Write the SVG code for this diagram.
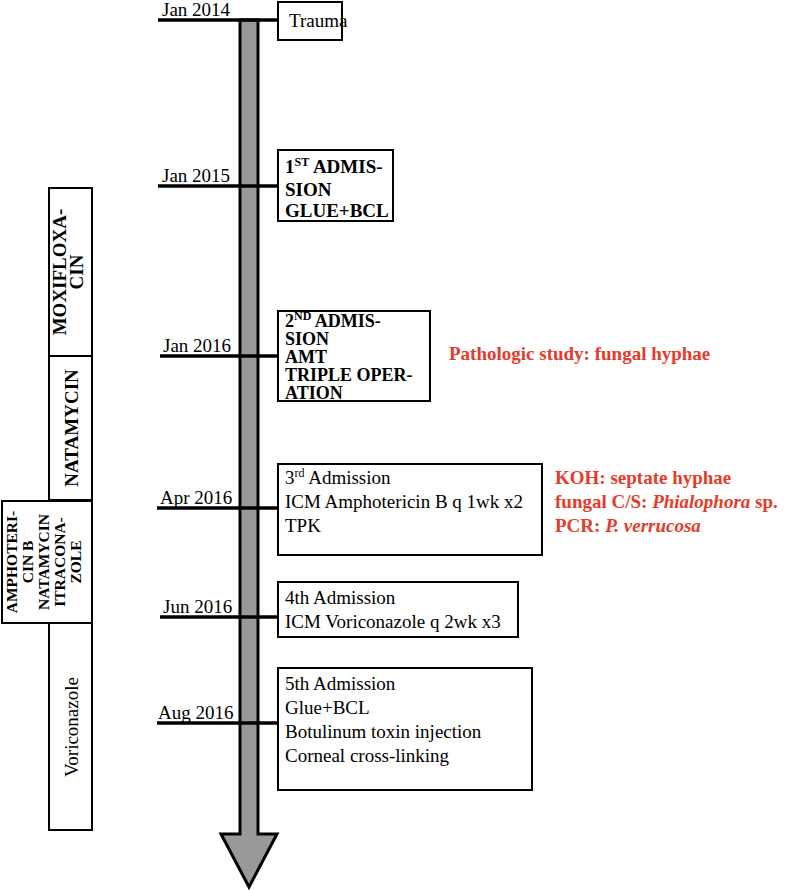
<svg xmlns="http://www.w3.org/2000/svg" width="787" height="890" viewBox="0 0 787 890">
<style>
text{font-family:"Liberation Serif","Times New Roman",serif;font-size:19px;fill:#000}
.b{font-weight:bold}
.red{fill:#e63b2b;font-weight:bold}
.box{fill:#fff;stroke:#000;stroke-width:2}
.tick{stroke:#000;stroke-width:3.5}
.sup{font-size:12px}
.t{font-size:18px}
.s{font-size:15.5px}
</style>
<g id="connectors">
<path id="timeline-arrow" d="M240,20 L258,20 L258,834 L277,834 L249,887 L221,834 L240,834 Z" fill="#999" stroke="#000" stroke-width="3" stroke-linejoin="miter"/>
<line class="tick" x1="158" y1="20" x2="278" y2="20"/>
<line class="tick" x1="158" y1="186" x2="278" y2="186"/>
<line class="tick" x1="160" y1="356" x2="278" y2="356"/>
<line class="tick" x1="157" y1="508" x2="278" y2="508"/>
<line class="tick" x1="160" y1="617" x2="278" y2="617"/>
<line class="tick" x1="157" y1="723" x2="278" y2="723"/>
</g>
<g id="dates">
<text x="162" y="16">Jan 2014</text>
<text x="162" y="182">Jan 2015</text>
<text x="163" y="352">Jan 2016</text>
<text x="160" y="504">Apr 2016</text>
<text x="163" y="613">Jun 2016</text>
<text x="158" y="719">Aug 2016</text>
</g>
<g id="trauma">
<rect class="box" x="278" y="2" width="64" height="38"/>
<text x="289" y="27">Trauma</text>
</g>
<g id="admission1">
<rect class="box" x="278" y="150" width="115" height="71"/>
<text class="b" x="285" y="173">1<tspan class="sup" dy="-7">ST</tspan><tspan dy="7"> ADMIS-</tspan></text>
<text class="b" x="285" y="196">SION</text>
<text class="b" x="285" y="217">GLUE+BCL</text>
</g>
<g id="admission2">
<rect class="box" x="278" y="311" width="152" height="90"/>
<text class="b t" x="285" y="327">2<tspan class="sup" dy="-7">ND</tspan><tspan dy="7"> ADMIS-</tspan></text>
<text class="b t" x="285" y="345">SION</text>
<text class="b t" x="285" y="363">AMT</text>
<text class="b t" x="285" y="381">TRIPLE OPER-</text>
<text class="b t" x="285" y="399">ATION</text>
</g>
<g id="pathology">
<text class="red" x="449" y="360">Pathologic study: fungal hyphae</text>
</g>
<g id="admission3">
<rect class="box" x="278" y="464" width="264" height="91"/>
<text x="285" y="484">3<tspan class="sup" dy="-7">rd</tspan><tspan dy="7"> Admission</tspan></text>
<text x="285" y="508">ICM Amphotericin B q 1wk x2</text>
<text x="285" y="532">TPK</text>
</g>
<g id="lab-results">
<text class="red" x="555" y="484">KOH: septate hyphae</text>
<text class="red" x="555" y="508">fungal C/S: <tspan font-style="italic">Phialophora</tspan> sp.</text>
<text class="red" x="555" y="532">PCR: <tspan font-style="italic">P. verrucosa</tspan></text>
</g>
<g id="admission4">
<rect class="box" x="278" y="582" width="240" height="55"/>
<text x="285" y="604">4th Admission</text>
<text x="285" y="628">ICM Voriconazole q 2wk x3</text>
</g>
<g id="admission5">
<rect class="box" x="278" y="668" width="254" height="122"/>
<text x="285" y="690">5th Admission</text>
<text x="285" y="714">Glue+BCL</text>
<text x="285" y="738">Botulinum toxin injection</text>
<text x="285" y="762">Corneal cross-linking</text>
</g>
<g id="moxifloxacin">
<rect class="box" x="49" y="188" width="43" height="168"/>
<text class="b" text-anchor="middle" transform="translate(0,272) rotate(-90)" x="0" y="66">MOXIFLOXA-</text>
<text class="b" text-anchor="middle" transform="translate(0,272) rotate(-90)" x="0" y="83">CIN</text>
</g>
<g id="natamycin">
<rect class="box" x="49" y="356" width="43" height="144"/>
<text class="b" text-anchor="middle" transform="translate(0,428) rotate(-90)" x="0" y="78">NATAMYCIN</text>
</g>
<g id="amphotericin">
<rect class="box" x="2" y="501" width="90" height="122"/>
<text class="b s" text-anchor="middle" transform="translate(0,562) rotate(-90)" x="0" y="17">AMPHOTERI-</text>
<text class="b s" text-anchor="middle" transform="translate(0,562) rotate(-90)" x="0" y="33">CIN B</text>
<text class="b s" text-anchor="middle" transform="translate(0,562) rotate(-90)" x="0" y="49">NATAMYCIN</text>
<text class="b s" text-anchor="middle" transform="translate(0,562) rotate(-90)" x="0" y="65">ITRACONA-</text>
<text class="b s" text-anchor="middle" transform="translate(0,562) rotate(-90)" x="0" y="81">ZOLE</text>
</g>
<g id="voriconazole">
<rect class="box" x="49" y="623" width="43" height="207"/>
<text text-anchor="middle" transform="translate(0,727) rotate(-90)" x="0" y="78">Voriconazole</text>
</g>
</svg>
